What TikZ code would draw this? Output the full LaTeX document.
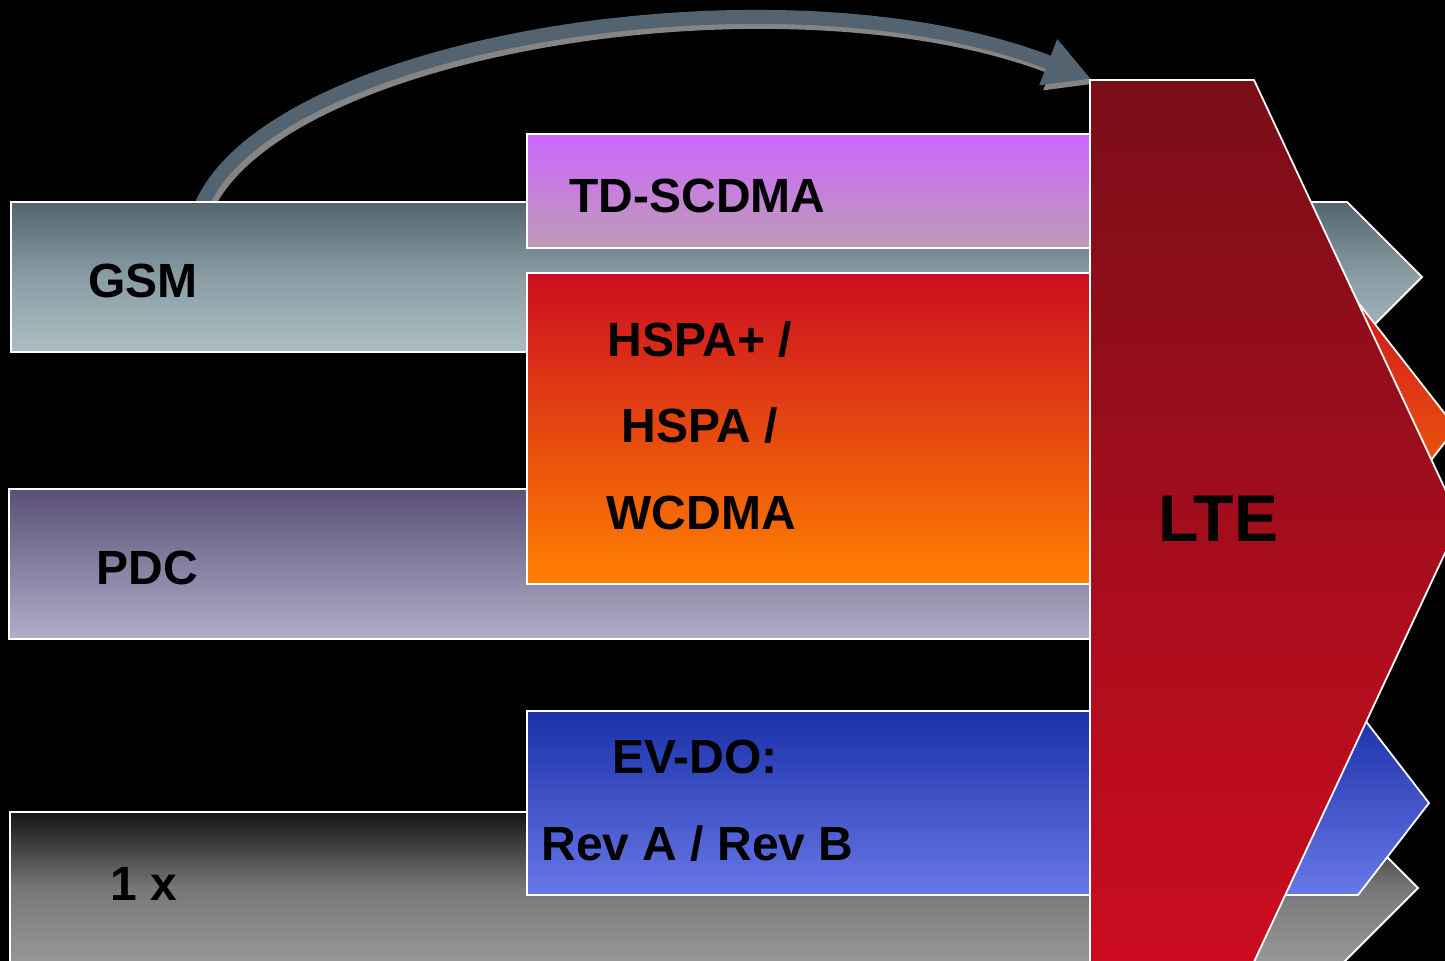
\documentclass[tikz,border=0pt]{standalone}
\usepackage{fontspec}
\setmainfont{Liberation Sans}
\usetikzlibrary{arrows.meta}

% band colours, top to bottom
\definecolor{gsmA}{HTML}{53656F}
\definecolor{gsmB}{HTML}{8A9DA4}
\definecolor{gsmC}{HTML}{ACBEC4}
\definecolor{tdA}{HTML}{CC66FF}
\definecolor{tdB}{HTML}{BF9BB5}
\definecolor{hsA}{HTML}{CC0E20}
\definecolor{hsB}{HTML}{FF8000}
\definecolor{pdcA}{HTML}{5A5078}
\definecolor{pdcB}{HTML}{B0AEC8}
\definecolor{evA}{HTML}{1A30A8}
\definecolor{evB}{HTML}{6878E8}
\definecolor{oneA}{HTML}{151515}
\definecolor{oneB}{HTML}{777777}
\definecolor{oneC}{HTML}{989898}
\definecolor{lteA}{HTML}{7A0E18}
\definecolor{lteB}{HTML}{CC0C20}
\definecolor{arccol}{HTML}{536470}
\definecolor{arcshade}{HTML}{858585}

\begin{document}
\begin{tikzpicture}[x=0.5pt,y=-0.5pt,
  band/.style={draw=white, line width=0.9pt},
  lbl/.style={anchor=base west, inner sep=0pt, text=black,
              font=\fontsize{24}{28}\selectfont\bfseries},
  biglbl/.style={lbl, font=\fontsize{33}{38}\selectfont\bfseries},
  arcline/.style={line width=7pt, -{Triangle[length=23pt,width=23pt]}}
]
\useasboundingbox (0,0) rectangle (1445,961);
\fill[black] (0,0) rectangle (1445,961);

% migration arc from GSM over to LTE
\coordinate (arcstart) at (198,214);
\coordinate (ctrla) at (257,42);
\coordinate (ctrlb) at (782,-42);
\coordinate (ltecorner) at (1091,79);
\draw[arcline, draw=arcshade]
  ([shift={(4,5)}]arcstart) .. controls ([shift={(4,5)}]ctrla) and ([shift={(4,5)}]ctrlb) .. ([shift={(4,5)}]ltecorner);
\draw[arcline, draw=arccol]
  (arcstart) .. controls (ctrla) and (ctrlb) .. (ltecorner);

% technology bands, back to front
\path[band, top color=oneA, bottom color=oneC, middle color=oneB]
  (10,812) -- (1342,812) -- (1418,888) -- (1342,964) -- (10,964) -- cycle;
\path[band, top color=pdcA, bottom color=pdcB]
  (9,489) -- (1347,489) -- (1422,564) -- (1347,639) -- (9,639) -- cycle;
\path[band, top color=gsmA, bottom color=gsmC, middle color=gsmB]
  (11,202) -- (1347,202) -- (1422,277) -- (1347,352) -- (11,352) -- cycle;
\path[band, top color=evA, bottom color=evB]
  (527,711) -- (1358,711) -- (1429,803) -- (1358,895) -- (527,895) -- cycle;
\path[band, top color=hsA, bottom color=hsB]
  (527,273) -- (1335,273) -- (1456,428) -- (1335,584) -- (527,584) -- cycle;
\path[band, top color=tdA, bottom color=tdB]
  (527,134) rectangle (1090,248);
\path[band, top color=lteA, bottom color=lteB]
  (1090,80) -- (1254,80) -- (1460,521) -- (1253,964) -- (1090,964) -- cycle;

% labels
\node[lbl] (gsm)   at (88,298)  {GSM};
\node[lbl] (pdc)   at (96,585)  {PDC};
\node[lbl] (onex)  at (110,900) {1 x};
\node[lbl] (td)    at (569,213) {TD-SCDMA};
\node[lbl] (hspap) at (607,357) {HSPA+ /};
\node[lbl] (hspa)  at (621,443) {HSPA /};
\node[lbl] (wcdma) at (606,530) {WCDMA};
\node[lbl] (evdo)  at (612,773) {EV-DO:};
\node[lbl] (rev)   at (541,860) {Rev A / Rev B};
\node[biglbl] (lte) at (1158,542) {LTE};
\end{tikzpicture}
\end{document}
